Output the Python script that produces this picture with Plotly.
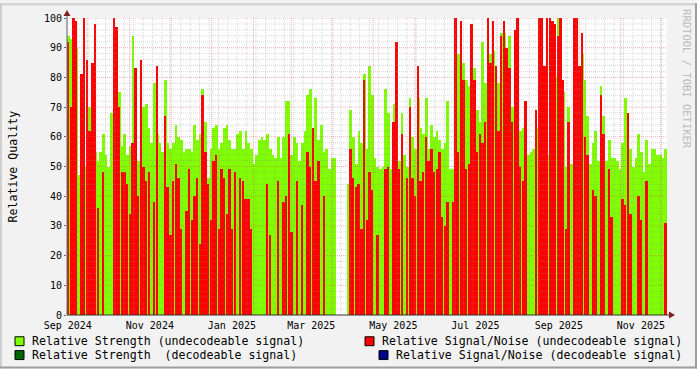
import plotly.graph_objects as go
import pandas as pd

# ---------------- data ----------------
START = pd.Timestamp("2024-09-15 10:00")
END = START + pd.Timedelta(days=446)
BIN_DAYS = 2

# Relative Strength (undecodeable signal), one value per 2-day bin
strength = [
    94, 93, 60, 90, 47, 53, 50, 60, 70, 55, 55, 52, 55, 61, 54, 50, 68, 100, 75, 75,
    57, 61, 54, 57, 94, 55, 52, 52, 70, 71, 63, 58, 78, 61, 58, 55, 79,
    58, 56, 58, 64, 60, 59, 55, 56, 56, 55, 64, 59, 61, 76, 65, 46, 56, 63, 64, 56,
    58, 63, 64, 59, 56, 56, 61, 62, 56, 62, 58, 56, 51, 54, 59, 60, 59,
    61, 56, 54, 53, 60, 53, 60, 72, 72, 54, 60, 58, 52, 58, 62, 74, 76, 54, 73, 59,
    64, 55, 56, 49, 53, 53, None, None, None, None, 44, 69, 60, 51, 62, 58, 81,
    56, 84, 74, 53, 50, 49, 50, 76, 68, 49, 71, 62, 52, 68, 54, 50, 73, 60, 56, 73,
    63, 61, 73, 56, 64, 60, 62, 59, 56, 58, 72, 49, 49, 54, 88, 84, 85,
    79, 77, 68, 83, 69, 65, 92, 78, 90, 88, 89, 63, 78, 95, 95, 68, 94, 70, 88, 88,
    62, 63, 56, 54, 55, 56, 63, 92, 59, 69, 54, 84, 69, 80, 100, 87, 75,
    50, 70, 51, 100, 96, 55, 88, 79, 67, 51, 58, 62, 52, 77, 67, 52, 59, 53, 53, 52,
    49, 58, 73, 50, 56, 50, 53, 61, 55, 48, 59, 51, 56, 56, 54, 54, 53, 56,
]

# Relative Signal/Noise (undecodeable signal)
snr = [
    92, 70, 100, 99, None, 81, 100, 86, 62, 85, 98, 36, None, 48, None, None, None, 100, 97, 70,
    48, 48, 44, 34, 58, 83, 40, 86, 50, 45, 48, None, 38, 84, None, None, 67,
    43, 27, 45, 51, 46, 29, None, 35, 49, 32, 40, 46, 24, 74, 55, 44, 32, 52, 54, 29,
    49, 46, 34, 49, 29, 48, None, 46, 45, 39, 39, 29, None, None, None, None, None,
    44, 27, None, None, 45, None, 38, 40, 61, 28, None, 45, None, 37, None, 55, 50, 63, 45, 52,
    None, 40, None, None, None, None, None, None, None, None, None, 56, 46, 43, 44, 29, 79,
    32, 48, 42, None, 27, None, None, 49, 50, None, 65, 92, 49, 61, None, 46, 70, 46, 40, 84,
    45, 48, 60, 52, 56, 48, 49, 55, 33, 30, 38, None, 38, 100, 55, 99, 79,
    49, 51, 98, 79, 55, 61, 58, 65, 100, 85, 99, 84, 62, 94, 99, 90, 83, 65, 96, 100,
    50, 45, 72, None, None, None, 69, 100, 100, 84, 100, 100, 99, 98, 94, 100, 79,
    29, 65, None, 100, 100, 84, 95, 60, 54, None, 42, 40, None, 74, 61, None, 49, 33, None, None,
    None, 39, 37, 68, 34, None, None, 40, 32, None, 45, None, None, None, None, None, None, 31,
]

# decodeable series carry no visible data in this period
strength_dec = []
snr_dec = []

x_label_months = ["2024-09-01", "2024-11-01", "2025-01-01", "2025-03-01",
                  "2025-05-01", "2025-07-01", "2025-09-01", "2025-11-01"]
x_labels = ["Sep 2024", "Nov 2024", "Jan 2025", "Mar 2025",
            "May 2025", "Jul 2025", "Sep 2025", "Nov 2025"]
y_ticks = list(range(0, 101, 10))

series_names = [
    "Relative Strength (undecodeable signal)",
    "Relative Signal/Noise (undecodeable signal)",
    "Relative Strength\u00a0 (decodeable signal)",
    "Relative Signal/Noise (decodeable signal)",
]
series_colors = ["#80FF00", "#FF0000", "#006400", "#00008B"]

# ---------------- figure ----------------
x = [START + pd.Timedelta(days=BIN_DAYS * i + BIN_DAYS / 2) for i in range(len(strength))]
DAY_MS = 86400000
green_w = BIN_DAYS * DAY_MS * 1.03
red_w = BIN_DAYS * DAY_MS * 0.7

fig = go.Figure()
fig.add_trace(go.Bar(x=x, y=strength, width=green_w, marker=dict(color=series_colors[0], line=dict(width=0)),
                     name=series_names[0]))
fig.add_trace(go.Bar(x=x, y=snr, width=red_w, marker=dict(color=series_colors[1], line=dict(width=0)),
                     name=series_names[1]))
fig.add_trace(go.Bar(x=x[:len(strength_dec)], y=strength_dec, width=green_w,
                     marker=dict(color=series_colors[2]), name=series_names[2]))
fig.add_trace(go.Bar(x=x[:len(snr_dec)], y=snr_dec, width=red_w,
                     marker=dict(color=series_colors[3]), name=series_names[3]))

L, R, T, B = 67, 667, 15, 315
W, H = 697, 369


def px(v):
    return (v - L) / (R - L)


def py(v):
    return (B - v) / (B - T)


shapes = []
MINOR = "rgba(143,143,143,0.35)"
MAJOR = "rgba(222,79,79,0.45)"
# horizontal grid
for v in range(2, 101, 2):
    major = v % 10 == 0
    shapes.append(dict(type="line", xref="paper", yref="y", x0=0, x1=1, y0=v, y1=v, layer="above",
                       line=dict(color=MAJOR if major else MINOR, width=1, dash="1px,1px")))
# vertical weekly minor grid (Mondays)
d = START.normalize() + pd.Timedelta(days=(7 - START.weekday()) % 7)
while d < END:
    shapes.append(dict(type="line", xref="x", yref="paper", x0=d, x1=d, y0=0, y1=1, layer="above",
                       line=dict(color=MINOR, width=1, dash="1px,1px")))
    d += pd.Timedelta(days=7)
# vertical monthly major grid
m = pd.Timestamp("2024-10-01")
while m < END:
    shapes.append(dict(type="line", xref="x", yref="paper", x0=m, x1=m, y0=0, y1=1, layer="above",
                       line=dict(color=MAJOR, width=1, dash="1px,1px")))
    m = m + pd.DateOffset(months=1)

# axes lines
shapes.append(dict(type="line", xref="paper", yref="paper", x0=px(L), x1=px(670), y0=0, y1=0,
                   line=dict(color="#333333", width=1), layer="above"))
shapes.append(dict(type="line", xref="paper", yref="paper", x0=0, x1=0, y0=0, y1=py(11),
                   line=dict(color="#666666", width=1), layer="above"))
# arrows
shapes.append(dict(type="path", xref="paper", yref="paper", layer="above",
                   path=f"M {px(63.5)} {py(13)} L {px(70.5)} {py(13)} L {px(67)} {py(7)} Z",
                   fillcolor="#801F1F", line=dict(width=0)))
shapes.append(dict(type="path", xref="paper", yref="paper", layer="above",
                   path=f"M {px(669)} {py(311.5)} L {px(669)} {py(318.5)} L {px(675)} {py(315)} Z",
                   fillcolor="#801F1F", line=dict(width=0)))
# frame shading
shapes.append(dict(type="rect", xref="paper", yref="paper", x0=px(0), x1=px(W), y0=py(0), y1=py(2),
                   fillcolor="#CFCFCF", line=dict(width=0), layer="above"))
shapes.append(dict(type="rect", xref="paper", yref="paper", x0=px(0), x1=px(2), y0=py(0), y1=py(H),
                   fillcolor="#CFCFCF", line=dict(width=0), layer="above"))
shapes.append(dict(type="rect", xref="paper", yref="paper", x0=px(0), x1=px(W), y0=py(H - 2), y1=py(H),
                   fillcolor="#9E9E9E", line=dict(width=0), layer="above"))
shapes.append(dict(type="rect", xref="paper", yref="paper", x0=px(W - 2), x1=px(W), y0=py(0), y1=py(H),
                   fillcolor="#9E9E9E", line=dict(width=0), layer="above"))

annotations = []
FONT = "DejaVu Sans Mono"
# legend (2x2)
legend_pos = [(15, 30, 341.5), (365, 380, 341.5), (15, 30, 355.5), (379, 394, 355.5)]
for name, col, (bx, tx, ry) in zip(series_names, series_colors, legend_pos):
    shapes.append(dict(type="rect", xref="paper", yref="paper", x0=px(bx), x1=px(bx + 9),
                       y0=py(ry - 4.5), y1=py(ry + 4.5), fillcolor=col,
                       line=dict(color="#000000", width=1), layer="above"))
    annotations.append(dict(xref="paper", yref="paper", x=px(tx), y=py(ry), text=name, showarrow=False,
                            xanchor="left", yanchor="middle", font=dict(family=FONT, size=11.6, color="#000")))

annotations.append(dict(xref="paper", yref="paper", x=px(12), y=py(165), text="Relative Quality",
                        textangle=-90, showarrow=False, xanchor="center", yanchor="middle",
                        font=dict(family=FONT, size=11.6, color="#000")))
annotations.append(dict(xref="paper", yref="paper", x=px(687), y=py(4), text="RRDTOOL / TOBI OETIKER",
                        textangle=90, showarrow=False, xanchor="center", yanchor="top",
                        font=dict(family=FONT, size=10.5, color="#BBBBBB")))

label_pos = [pd.Timestamp(s) + pd.Timedelta(days=15) for s in x_label_months]

fig.update_layout(
    width=W, height=H,
    margin=dict(l=L, r=W - R, t=T, b=H - B, pad=0),
    paper_bgcolor="#F2F2F2", plot_bgcolor="#FFFFFF",
    barmode="overlay", bargap=0, showlegend=False,
    font=dict(family=FONT, color="#000000"),
    shapes=shapes, annotations=annotations,
    xaxis=dict(type="date", range=[START, END], tickvals=label_pos, ticktext=x_labels,
               showgrid=False, zeroline=False, showline=False, ticks="", ticklabelstandoff=3,
               tickfont=dict(family=FONT, size=10, color="#000")),
    yaxis=dict(range=[0, 100], tickvals=y_ticks, ticktext=[str(v) for v in y_ticks],
               showgrid=False, zeroline=False, showline=False, ticks="outside", ticklen=2,
               tickcolor="#666666", tickfont=dict(family=FONT, size=10, color="#000")),
)

fig.write_html("out.html")
